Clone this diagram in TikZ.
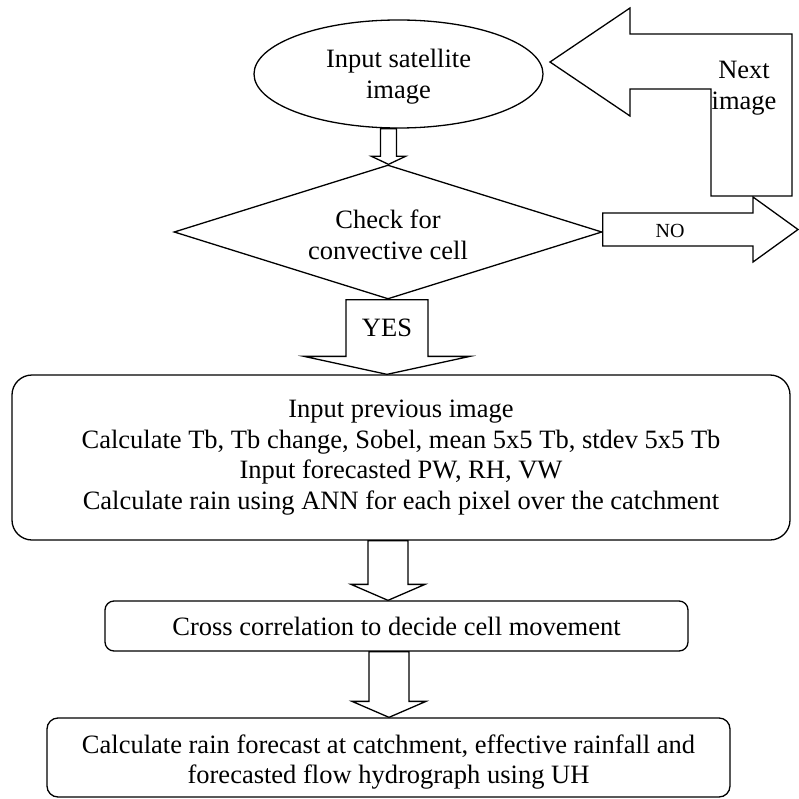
\documentclass[tikz,border=0pt]{standalone}
\usepackage{fontspec}
\setmainfont{Liberation Serif}
\usetikzlibrary{shapes.geometric,calc}
\definecolor{flowBlack}{RGB}{0, 0, 0}
\definecolor{flowWhite}{RGB}{255, 255, 255}
\tikzset{
  flowline/.style={draw=flowBlack, line width=1.3pt, line join=miter},
  blockline/.style={flowline, fill=flowWhite},
  flowtext/.style={font=\fontsize{26.5}{30.5}\selectfont, align=center, inner sep=0pt, text=flowBlack},
  flowbox/.style={flowline, flowtext, rectangle, fill=flowWhite}
}
% hollow block arrow pointing down: shaft top y from #1, tip at #2
\newcommand{\blockdown}[5]{%
  \path (#2 |- #1) coordinate (bd-top) (#2) coordinate (bd-tip);
  \draw[blockline] ($(bd-top)+(-#3,0)$) -- ($(bd-tip)+(-#3,-#5)$) -- ($(bd-tip)+(-#4,-#5)$) -- (bd-tip)
    -- ($(bd-tip)+(#4,-#5)$) -- ($(bd-tip)+(#3,-#5)$) -- ($(bd-top)+(#3,0)$) -- cycle;
}
% text lines lowered inside their shape
\newcommand{\lowered}[2]{\raisebox{-#1}[\height][\depth]{\begin{tabular}{@{}c@{}}#2\end{tabular}}}
\begin{document}
\begin{tikzpicture}[x=1pt, y=-1pt]
            \useasboundingbox (0,0) rectangle (798,799);

            % Start
            \node[flowbox, ellipse, minimum width=289, minimum height=108] (sat) at (398.5,74) {\lowered{3pt}{Input satellite\\image}};

            % Decision
            \node[flowbox, diamond, aspect=3.19, minimum width=428, minimum height=134] (check) at (388,232) {\lowered{6pt}{Check for\\convective cell}};

            % Processing steps
            \node[flowbox, rounded corners=20, minimum width=778, minimum height=165] (ann) at (401,457.5) {Input previous image\\Calculate Tb, Tb change, Sobel, mean 5x5 Tb, stdev 5x5 Tb\\Input forecasted PW, RH, VW\\Calculate rain using ANN for each pixel over the catchment};

            \node[flowbox, rounded corners=9, minimum width=583, minimum height=50] (xcorr) at (396.5,626) {Cross correlation to decide cell movement};

            \node[flowbox, rounded corners=11, minimum width=683, minimum height=79] (flow) at (388.5,757.5) {\lowered{5pt}{Calculate rain forecast at catchment, effective rainfall and\\forecasted flow hydrograph using UH}};

            % Arrows down
            \coordinate (tipcheck) at ([xshift=0.5pt]check.north);
            \coordinate (tipann) at ([xshift=-14pt]ann.north);
            \coordinate (tipxcorr) at ([xshift=-8.5pt]xcorr.north);
            \coordinate (tipflow) at ([xshift=0.5pt]flow.north);
            \blockdown{sat.south}{tipcheck}{8}{17}{8}
            \blockdown{check.south}{tipann}{41}{83}{18}
            \node[flowtext] (yes) at ($(tipann)+(0,-46)$) {YES};
            \blockdown{ann.south}{tipxcorr}{20}{37}{16}
            \blockdown{xcorr.south}{tipflow}{20}{37}{16}

            % NO branch
            \coordinate (noend) at (798,229.5);
            \coordinate (nostart) at (check.east |- noend);
            \draw[blockline] ($(nostart)+(0,-16.5)$) -- ($(noend)+(-45,-16.5)$) -- ($(noend)+(-45,-32.5)$) -- (noend)
              -- ($(noend)+(-45,32.5)$) -- ($(noend)+(-45,16.5)$) -- ($(nostart)+(0,16.5)$) -- cycle;
            \node[flowtext, font=\fontsize{20}{24}\selectfont] (no) at (670,231) {NO};

            % Loop back to the next image
            \coordinate (backtip) at (550,62);
            \draw[blockline] (792,196) -- (792,34) -- (630,34) -- (630,8) -- (backtip) -- (630,116)
              -- (630,89) -- (711,89) -- (711,196) -- cycle;
            \node[flowtext] (next) at (744,88) {Next\\image};
\end{tikzpicture}
\end{document}
